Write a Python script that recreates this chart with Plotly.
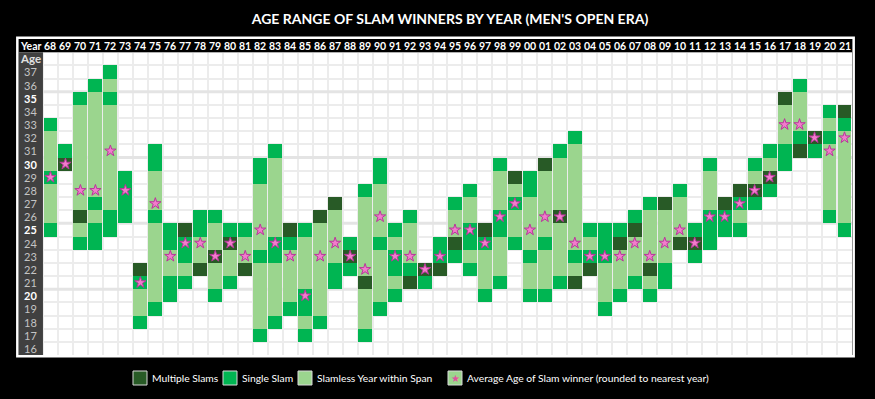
import plotly.graph_objects as go

# ---------------- data ----------------
years = list(range(1968, 2022))
year_labels = [f"{y % 100:02d}" for y in years]
ages = list(range(16, 38))

# ages (per year) at which a player won multiple slams that year
multi_slams = [
    [], [30], [26], [], [], [], [22], [], [], [25],
    [22], [23], [24], [22], [], [], [25], [], [26], [27],
    [23], [21], [], [], [21], [22], [22], [24], [], [25],
    [], [29], [], [30], [26], [21], [22], [], [24], [25],
    [22], [27], [24], [24], [], [27], [28], [28], [29], [35],
    [31], [32], [], [34],
]
# ages (per year) at which a player won a single slam that year
single_slam = [
    [33, 29, 25], [31], [35, 24], [36, 27, 25, 24], [37, 35, 26, 25], [29, 28, 27, 26], [21, 18], [31, 30, 26, 19], [25, 24, 21, 20], [24, 23, 21],
    [26, 25], [26, 20], [25, 21], [25], [30, 29, 23, 17], [31, 24, 23, 18], [24, 19], [25, 20, 19, 17], [18], [22, 21],
    [24, 22], [28, 17], [30, 29, 24, 19], [25, 23, 22, 20], [26, 22], [21], [24, 23], [27, 23], [28, 25, 24, 22], [24, 20],
    [30, 26, 25, 21], [27, 24], [29, 28, 23, 20], [24, 20], [31, 21], [32, 23], [25, 23], [25, 24, 23, 19], [25, 20], [26, 21],
    [27, 20], [22, 21], [28], [25, 23], [30, 26, 25, 24], [26, 25], [27, 25], [30, 27], [31, 28], [31, 30],
    [36, 32], [31], [34, 32, 26], [33, 25],
]
# ages (per year) inside the youngest-oldest span without a slam winner
slamless = [
    [32, 31, 30, 28, 27, 26], [], [34, 33, 32, 31, 30, 29, 28, 27, 25], [35, 34, 33, 32, 31, 30, 29, 28, 26], [36, 34, 33, 32, 31, 30, 29, 28, 27], [], [20, 19], [29, 28, 27, 25, 24, 23, 22, 21, 20], [23, 22], [22],
    [24, 23], [25, 24, 22, 21], [23, 22], [24, 23], [28, 27, 26, 25, 24, 22, 21, 20, 19, 18], [30, 29, 28, 27, 26, 25, 22, 21, 20, 19], [23, 22, 21, 20], [24, 23, 22, 21, 18], [25, 24, 23, 22, 21, 20, 19], [26, 25, 24, 23],
    [], [27, 26, 25, 24, 23, 22, 20, 19, 18], [28, 27, 26, 25, 23, 22, 21, 20], [24, 21], [25, 24, 23], [], [], [26, 25], [27, 26, 23], [23, 22, 21],
    [29, 28, 27, 24, 23, 22], [28, 26, 25], [27, 26, 25, 24, 22, 21], [29, 28, 27, 26, 25, 23, 22, 21], [30, 29, 28, 27, 25, 24, 23, 22], [31, 30, 29, 28, 27, 26, 25, 24, 22], [24], [22, 21, 20], [23, 22, 21], [24, 23, 22],
    [26, 25, 24, 23, 21], [26, 25, 24, 23], [27, 26, 25], [], [29, 28, 27], [], [26], [29], [30], [34, 33, 32],
    [35, 34, 33], [], [33, 31, 30, 29, 28, 27], [32, 31, 30, 29, 28, 27, 26],
]
# average age of slam winners (rounded)
avg_age = [
    29, 30, 28, 28, 31, 28, 21, 27, 23, 24,
    24, 23, 24, 23, 25, 24, 23, 20, 23, 24,
    23, 22, 26, 23, 23, 22, 23, 25, 25, 24,
    26, 27, 25, 26, 26, 24, 23, 23, 23, 24,
    23, 24, 25, 24, 26, 26, 27, 28, 29, 33,
    33, 32, 31, 32,
]

series_names = ["Multiple Slams", "Single Slam", "Slamless Year within Span"]
series_colors = ["#285a26", "#00b552", "#9bd58e"]
series_data = [multi_slams, single_slam, slamless]
star_name = "Average Age of Slam winner (rounded to nearest year)"
star_fill, star_edge = "#f27ccc", "#b8379a"

# ---------------- figure ----------------
W, H = 875, 399
ML, MR, MT, MB = 19, 23, 39, 44
PW, PH = W - ML - MR, H - MT - MB
FONT = "Lato, 'DejaVu Sans', sans-serif"
fig = go.Figure()

for name, color, data in zip(series_names, series_colors, series_data):
    xs, bases = [], []
    for yr, lst in zip(years, data):
        for a in lst:
            xs.append(yr)
            bases.append(a - 0.5)
    fig.add_trace(go.Bar(
        x=xs, y=[1] * len(xs), base=bases, width=0.93,
        marker=dict(color=color, line=dict(width=0)),
        name=name, hovertemplate="%{x}: age %{base}<extra></extra>",
    ))

fig.add_trace(go.Scatter(
    x=years, y=avg_age, mode="markers",
    marker=dict(symbol="star", size=8.5, color=star_fill,
                line=dict(color=star_edge, width=1)),
    name=star_name,
))

x_left = years[0] - 0.5 - 1.6
x_right = years[-1] + 0.5
y_bottom = ages[0] - 0.5
y_top = ages[-1] + 2.5
label_x = (x_left + years[0] - 0.5) / 2

shapes = []
# thicker grid lines above ages divisible by 5
for a in ages:
    if a % 5 == 0:
        shapes.append(dict(type="line", xref="x", yref="y", layer="between",
                           x0=years[0] - 0.5, x1=x_right, y0=a + 0.5, y1=a + 0.5,
                           line=dict(color="#e4e4e4", width=3)))
# header row (black) and label column (dark grey)
shapes.append(dict(type="rect", xref="x", yref="y", layer="above",
                   x0=x_left, x1=x_right, y0=ages[-1] + 1.5, y1=y_top,
                   fillcolor="black", line=dict(width=0)))
shapes.append(dict(type="rect", xref="x", yref="y", layer="above",
                   x0=x_left, x1=years[0] - 0.5, y0=y_bottom, y1=ages[-1] + 1.5,
                   fillcolor="#404040", line=dict(width=0)))
# white frame
shapes.append(dict(type="rect", xref="paper", yref="paper", layer="above",
                   x0=-0.002, x1=1.002, y0=-0.004, y1=1.004,
                   fillcolor="rgba(0,0,0,0)", line=dict(color="white", width=2.5)))

annotations = []
for yr, lab in zip(years, year_labels):
    annotations.append(dict(x=yr, y=ages[-1] + 2, text=f"<b>{lab}</b>", showarrow=False,
                            xref="x", yref="y", font=dict(color="white", size=10.5, family=FONT)))
annotations.append(dict(x=label_x, y=ages[-1] + 2, text="<b>Year</b>", showarrow=False,
                        xref="x", yref="y", font=dict(color="white", size=10.5, family=FONT)))
annotations.append(dict(x=label_x, y=ages[-1] + 1, text="<b>Age</b>", showarrow=False,
                        xref="x", yref="y", font=dict(color="#e0e0e0", size=11.5, family=FONT)))
for a in ages:
    if a % 5 == 0:
        txt, col = f"<b>{a}</b>", "white"
    else:
        txt, col = str(a), "#c4c4c4"
    annotations.append(dict(x=label_x, y=a, text=txt, showarrow=False, xref="x", yref="y",
                            font=dict(color=col, size=11, family=FONT)))

# ----- custom legend drawn below the table (pixel layout -> paper coords) -----
def px_x(px):
    return (px - ML) / PW

def px_y(py):
    return (H - MB - py) / PH

legend_items = [
    (series_names[0], series_colors[0], 133),
    (series_names[1], series_colors[1], 223),
    (series_names[2], series_colors[2], 298),
    (star_name, series_colors[2], 448),
]
SQ = 14
LEG_Y = 378
for i, (name, color, x0) in enumerate(legend_items):
    shapes.append(dict(type="rect", xref="paper", yref="paper", layer="above",
                       x0=px_x(x0), x1=px_x(x0 + SQ),
                       y0=px_y(LEG_Y + SQ / 2), y1=px_y(LEG_Y - SQ / 2),
                       fillcolor=color, line=dict(color="#d8d8d8", width=1)))
    annotations.append(dict(x=px_x(x0 + SQ + 3), y=px_y(LEG_Y), xref="paper", yref="paper",
                            xanchor="left", yanchor="middle", text=name, showarrow=False,
                            font=dict(color="white", size=10.3, family=FONT)))
    if i == 3:
        annotations.append(dict(x=px_x(x0 + SQ / 2), y=px_y(LEG_Y), xref="paper", yref="paper",
                                xanchor="center", yanchor="middle", text="★", showarrow=False,
                                font=dict(color="#e0509f", size=10, family="DejaVu Sans")))

grid_x = [years[0] - 0.5 + i for i in range(len(years) + 1)]
grid_y = [ages[0] - 0.5 + i for i in range(len(ages) + 2)]

fig.update_layout(
    width=W, height=H,
    paper_bgcolor="black", plot_bgcolor="white",
    margin=dict(l=ML, r=MR, t=MT, b=MB, pad=0),
    barmode="overlay", bargap=0,
    title=dict(text="<b>AGE RANGE OF SLAM WINNERS BY YEAR (MEN'S OPEN ERA)</b>",
               x=450 / W, xanchor="center", xref="container",
               y=1 - 19 / H, yanchor="middle", yref="container",
               font=dict(color="white", size=14, family=FONT)),
    xaxis=dict(range=[x_left, x_right], tickvals=grid_x, showticklabels=False, ticks="",
               showgrid=True, gridcolor="#ececec", gridwidth=1.5, zeroline=False, fixedrange=True),
    yaxis=dict(range=[y_bottom, y_top], tickvals=grid_y, showticklabels=False, ticks="",
               showgrid=True, gridcolor="#ececec", gridwidth=1.5, zeroline=False, fixedrange=True),
    shapes=shapes, annotations=annotations,
    showlegend=False,
)

fig.write_html(
    "out.html",
    config={"displayModeBar": False},
    post_script="document.body.style.margin='0';document.body.style.background='black';",
)
